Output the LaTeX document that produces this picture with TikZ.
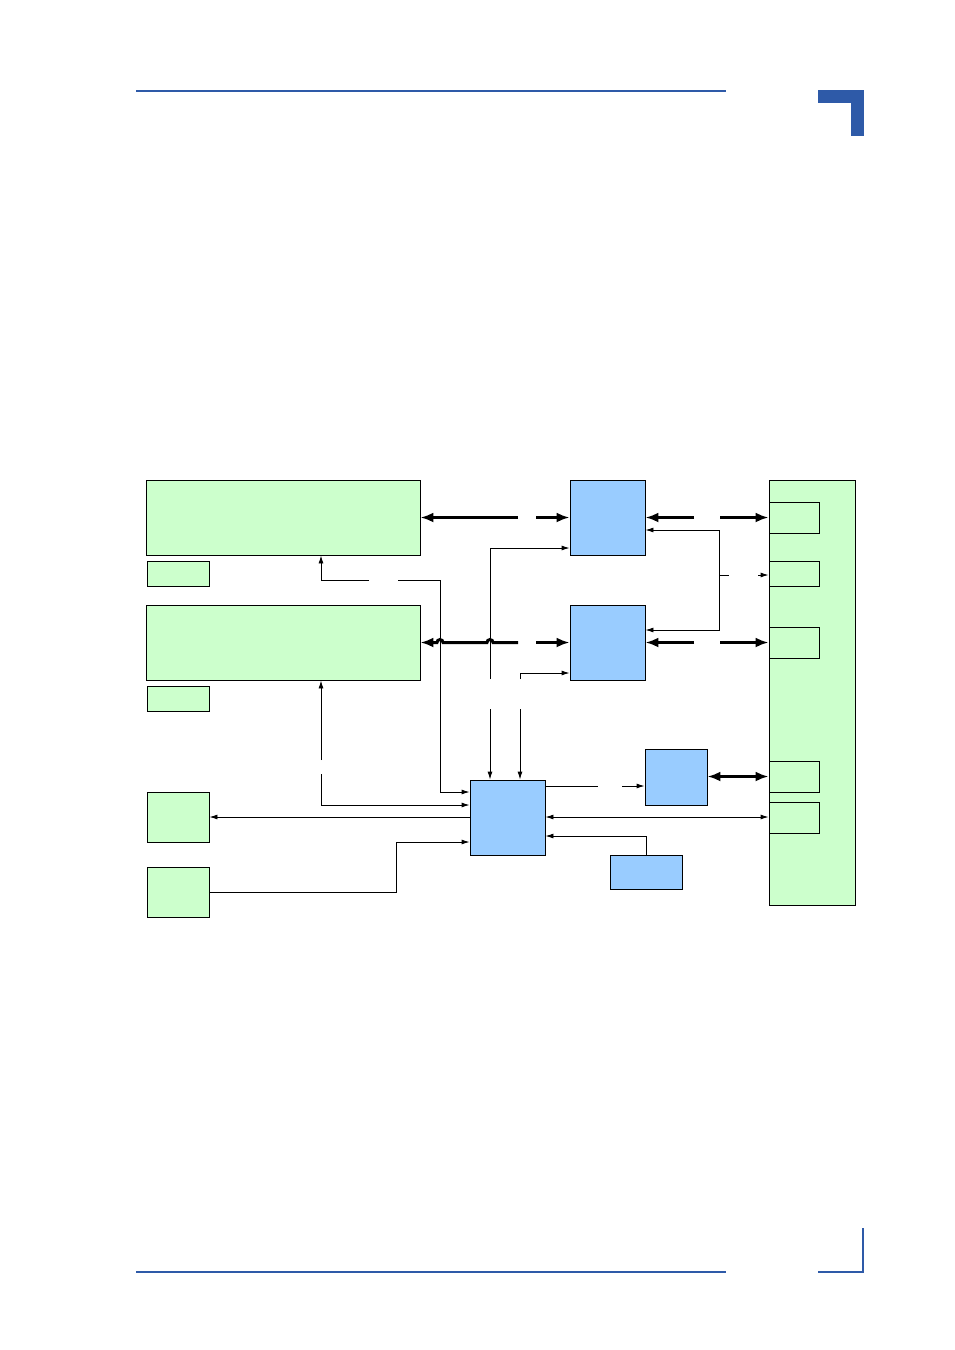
\documentclass[tikz,border=0pt]{standalone}
\usetikzlibrary{arrows.meta}
\definecolor{hdrblue}{HTML}{2E5AA8}
\definecolor{gfill}{HTML}{CCFFCC}
\definecolor{bfill}{HTML}{99CCFF}
\tikzset{
  gbox/.style={draw=black, fill=gfill, line width=0.9pt, inner sep=0pt, rectangle},
  bbox/.style={draw=black, fill=bfill, line width=0.9pt, inner sep=0pt, rectangle},
  thin/.style={line width=0.9pt, draw=black},
  thinarr/.style={thin, -{Latex[length=8pt,width=5pt]}},
  thinboth/.style={thin, {Latex[length=8pt,width=5pt]}-{Latex[length=8pt,width=5pt]}},
  fat/.style={line width=3pt, draw=black},
  fatarr/.style={fat, -{Latex[length=13pt,width=10pt]}},
  fatboth/.style={fat, {Latex[length=13pt,width=10pt]}-{Latex[length=13pt,width=10pt]}},
}
\begin{document}
\begin{tikzpicture}[x=1pt,y=-1pt]
\useasboundingbox (0,0) rectangle (954,1350);
% header / footer decoration
\fill[hdrblue] (136,90) rectangle (726,92);
\fill[hdrblue] (818,90) rectangle (864,103);
\fill[hdrblue] (851,90) rectangle (864,136);
\fill[hdrblue] (136,1271) rectangle (726,1273);
\fill[hdrblue] (818,1271) rectangle (864,1273);
\fill[hdrblue] (862,1228) rectangle (864,1273);

% nodes
\node[gbox, minimum width=274pt, minimum height=75pt] (A) at (283,517.5) {};
\node[gbox, minimum width=62pt, minimum height=25pt] (As) at (178,573.5) {};
\node[gbox, minimum width=274pt, minimum height=75pt] (B) at (283,642.5) {};
\node[gbox, minimum width=62pt, minimum height=25pt] (Bs) at (178,698.5) {};
\node[gbox, minimum width=62pt, minimum height=50pt] (C) at (178,817) {};
\node[gbox, minimum width=62pt, minimum height=50pt] (D) at (178,892) {};
\node[bbox, minimum width=75pt, minimum height=75pt] (P) at (607.5,517.5) {};
\node[bbox, minimum width=75pt, minimum height=75pt] (Q) at (607.5,642.5) {};
\node[bbox, minimum width=75pt, minimum height=75pt] (H) at (507.5,817.5) {};
\node[bbox, minimum width=62pt, minimum height=56pt] (R) at (676,777) {};
\node[bbox, minimum width=72pt, minimum height=34pt] (S) at (646,872) {};
\node[gbox, minimum width=86pt, minimum height=425pt] (Rt) at (812,692.5) {};
\node[gbox, minimum width=50pt, minimum height=31pt] (r1) at (794,517.5) {};
\node[gbox, minimum width=50pt, minimum height=25pt] (r2) at (794,573.5) {};
\node[gbox, minimum width=50pt, minimum height=31pt] (r3) at (794,642.5) {};
\node[gbox, minimum width=50pt, minimum height=31pt] (r4) at (794,776.5) {};
\node[gbox, minimum width=50pt, minimum height=31pt] (r5) at (794,817.5) {};

% coordinates for free ends (gaps)
\coordinate (ga1) at (518,517.5);
\coordinate (ga2) at (536,517.5);
\coordinate (gb1) at (518,642.5);
\coordinate (gb2) at (536,642.5);
\coordinate (gp1) at (694,517.5);
\coordinate (gp2) at (720,517.5);
\coordinate (gq1) at (694,642.5);
\coordinate (gq2) at (720,642.5);
\coordinate (ah1) at (369,580);
\coordinate (ah2) at (398,580);
\coordinate (bh1) at (321,760);
\coordinate (bh2) at (321,774);
\coordinate (v1a) at (490,679);
\coordinate (v1b) at (490,709);
\coordinate (v2a) at (520,679);
\coordinate (v2b) at (520,709);
\coordinate (hr1) at (598,786);
\coordinate (hr2) at (622,786);
\coordinate (pq1) at (729,575);
\coordinate (pq2) at (758,575);

% thick connectors
\draw[fatarr] (ga1) -- (A.east |- ga1);
\draw[fatarr] (ga2) -- (P.west |- ga2);
\draw[fatarr] (gp1) -- (P.east |- gp1);
\draw[fatarr] (gp2) -- (r1.west |- gp2);
\draw[fatarr] (gb1) -- (493,642.5) arc[start angle=0,end angle=180,radius=3pt] -- (443,642.5) arc[start angle=0,end angle=180,radius=3pt] -- (B.east |- gb1);
\draw[fatarr] (gb2) -- (Q.west |- gb2);
\draw[fatarr] (gq1) -- (Q.east |- gq1);
\draw[fatarr] (gq2) -- (r3.west |- gq2);
\draw[fatboth] (R.east |- 0,776.5) -- (r4.west);

% thin connectors
\draw[thinarr] (ah1) -- (321,580) -- (A.south -| 321,0);
\draw[thinarr] (ah2) -- (440,580) -- (440,792) -- (H.west |- 0,792);
\draw[thinarr] (bh1) -- (B.south -| bh1);
\draw[thinarr] (bh2) -- (321,805) -- (H.west |- 0,805);
\draw[thinarr] (H.west |- 0,817) -- (C.east |- 0,817);
\draw[thinarr] (D.east |- 0,892) -- (396,892) -- (396,842) -- (H.west |- 0,842);
\draw[thinarr] (v1a) -- (490,548) -- (P.west |- 0,548);
\draw[thinarr] (v2a) -- (520,673) -- (Q.west |- 0,673);
\draw[thinarr] (v1b) -- (H.north -| v1b);
\draw[thinarr] (v2b) -- (H.north -| v2b);
\draw[thin] (H.east |- hr1) -- (hr1);
\draw[thinarr] (hr2) -- (R.west |- hr2);
\draw[thinboth] (H.east |- 0,817) -- (r5.west |- 0,817);
\draw[thinarr] (S.north) -- (646,836) -- (H.east |- 0,836);
\draw[thinarr] (719,575) -- (719,530) -- (P.east |- 0,530);
\draw[thinarr] (719,575) -- (719,630) -- (Q.east |- 0,630);
\draw[thin] (719,575) -- (pq1);
\draw[thinarr] (pq2) -- (r2.west |- pq2);
\end{tikzpicture}
\end{document}
